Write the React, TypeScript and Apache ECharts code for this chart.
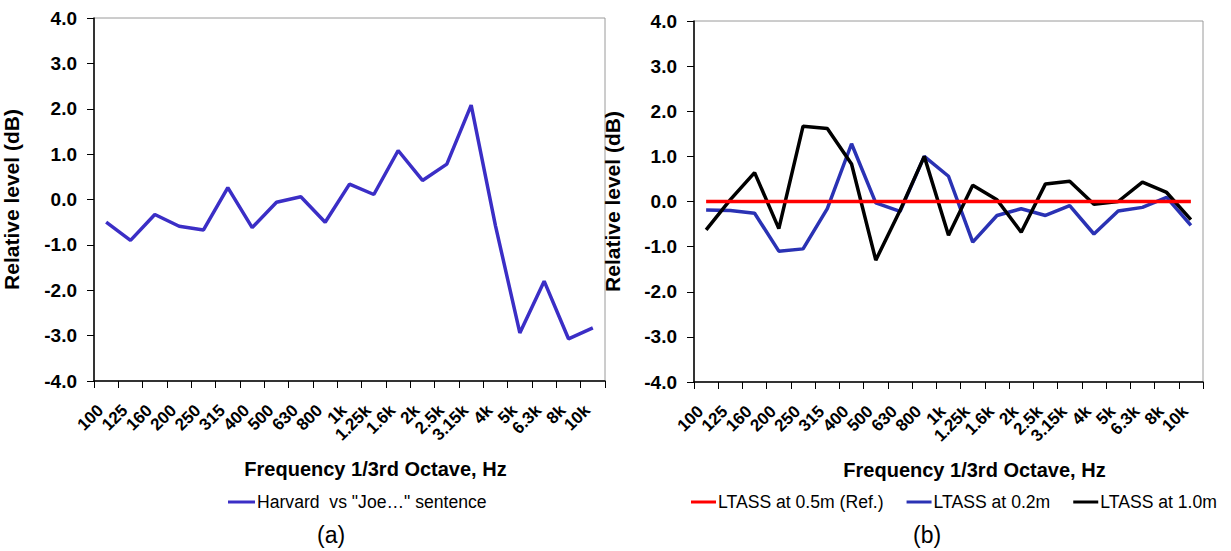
import React, { useEffect, useRef } from "react";
import * as echarts from "echarts";

const categories = ["100", "125", "160", "200", "250", "315", "400", "500", "630", "800", "1k", "1.25k", "1.6k", "2k", "2.5k", "3.15k", "4k", "5k", "6.3k", "8k", "10k"];
const harvardVsJoe = [-0.5, -0.9, -0.33, -0.59, -0.67, 0.26, -0.62, -0.06, 0.06, -0.5, 0.34, 0.11, 1.08, 0.42, 0.78, 2.08, -0.58, -2.94, -1.8, -3.07, -2.83];
const ltass05 = [0, 0, 0, 0, 0, 0, 0, 0, 0, 0, 0, 0, 0, 0, 0, 0, 0, 0, 0, 0, 0];
const ltass02 = [-0.19, -0.2, -0.26, -1.1, -1.05, -0.16, 1.28, -0.03, -0.22, 1.0, 0.56, -0.9, -0.31, -0.16, -0.31, -0.09, -0.72, -0.21, -0.13, 0.09, -0.53];
const ltass10 = [-0.63, 0.04, 0.64, -0.6, 1.67, 1.62, 0.83, -1.3, -0.2, 1.0, -0.75, 0.36, 0.04, -0.68, 0.39, 0.45, -0.06, 0.0, 0.43, 0.2, -0.4];

const nameA = 'Harvard  vs "Joe…" sentence';
const name05 = "LTASS at 0.5m (Ref.)";
const name02 = "LTASS at 0.2m";
const name10 = "LTASS at 1.0m";
const xTitle = "Frequency 1/3rd Octave, Hz";
const yTitle = "Relative level (dB)";

const FONT = "'Liberation Sans', Arial, Helvetica, sans-serif";

function xAxisCfg(gridIndex: number) {
  return {
    type: "category",
    gridIndex,
    data: categories,
    boundaryGap: true,
    name: xTitle,
    nameLocation: "middle",
    nameGap: 78,
    nameTextStyle: { fontFamily: FONT, fontSize: 20, fontWeight: "bold", color: "#000", padding: [0, 0, 0, 52] },
    axisLine: { show: true, onZero: false, lineStyle: { color: "#000", width: 1.5 } },
    axisTick: { show: true, alignWithLabel: false, interval: 0, length: 7, lineStyle: { color: "#000", width: 1 } },
    axisLabel: {
      interval: 0,
      rotate: 45,
      margin: 21,
      fontFamily: FONT,
      fontSize: 17,
      fontWeight: "bold",
      color: "#000",
      padding: [0, 8, 0, 0],
    },
    splitLine: { show: false },
  };
}

function yAxisCfg(gridIndex: number, gap: number) {
  return {
    type: "value",
    gridIndex,
    min: -4,
    max: 4,
    interval: 1,
    name: yTitle,
    nameLocation: "middle",
    nameGap: gap,
    nameTextStyle: { fontFamily: FONT, fontSize: 21, fontWeight: "bold", color: "#000" },
    axisLine: { show: true, lineStyle: { color: "#000", width: 1.5 } },
    axisTick: { show: true, length: 7, lineStyle: { color: "#000", width: 1 } },
    axisLabel: {
      margin: 17,
      fontFamily: FONT,
      fontSize: 19,
      fontWeight: "bold",
      color: "#000",
      formatter: (v: number) => v.toFixed(1),
    },
    splitLine: { show: false },
  };
}

function lineSeries(name: string, data: number[], color: string, idx: number, z: number) {
  return {
    type: "line",
    name,
    data,
    xAxisIndex: idx,
    yAxisIndex: idx,
    symbol: "none",
    lineStyle: { color, width: 3.5 },
    itemStyle: { color },
    z,
  };
}

export default function App() {
  const ref = useRef<HTMLDivElement>(null);
  useEffect(() => {
    if (!ref.current) return;
    const chart = echarts.init(ref.current, undefined, { renderer: "svg" });
    const legendText = { fontFamily: FONT, fontSize: 17.6, color: "#000", padding: [0, 0, 0, -3] };
    chart.setOption({
      animation: false,
      backgroundColor: "#fff",
      grid: [
        { left: 93, top: 18, width: 512, height: 363, show: true, borderColor: "#9a9a9a", borderWidth: 1, backgroundColor: "transparent" },
        { left: 694, top: 21, width: 509, height: 361, show: true, borderColor: "#9a9a9a", borderWidth: 1, backgroundColor: "transparent" },
      ],
      xAxis: [xAxisCfg(0), xAxisCfg(1)],
      yAxis: [yAxisCfg(0, 72), yAxisCfg(1, 71)],
      legend: [
        {
          data: [nameA],
          left: 228,
          top: 493,
          padding: 0,
          icon: "rect",
          itemWidth: 27,
          itemHeight: 3,
          textStyle: legendText,
        },
        {
          data: [name05, name02, name10],
          left: 691,
          top: 493,
          padding: 0,
          icon: "rect",
          itemWidth: 25,
          itemHeight: 3,
          itemGap: 23,
          textStyle: legendText,
        },
      ],
      graphic: [
        { type: "text", left: 317, top: 523, style: { text: "(a)", font: `23px ${FONT}`, fill: "#000" } },
        { type: "text", left: 913, top: 523, style: { text: "(b)", font: `23px ${FONT}`, fill: "#000" } },
      ],
      series: [
        lineSeries(nameA, harvardVsJoe, "#3B2EC6", 0, 2),
        lineSeries(name02, ltass02, "#2A32B4", 1, 2),
        lineSeries(name10, ltass10, "#000000", 1, 3),
        lineSeries(name05, ltass05, "#FF0000", 1, 4),
      ],
    });
    return () => chart.dispose();
  }, []);
  return <div ref={ref} style={{ position: "fixed", left: 0, top: 0, width: 1231, height: 551 }} />;
}
